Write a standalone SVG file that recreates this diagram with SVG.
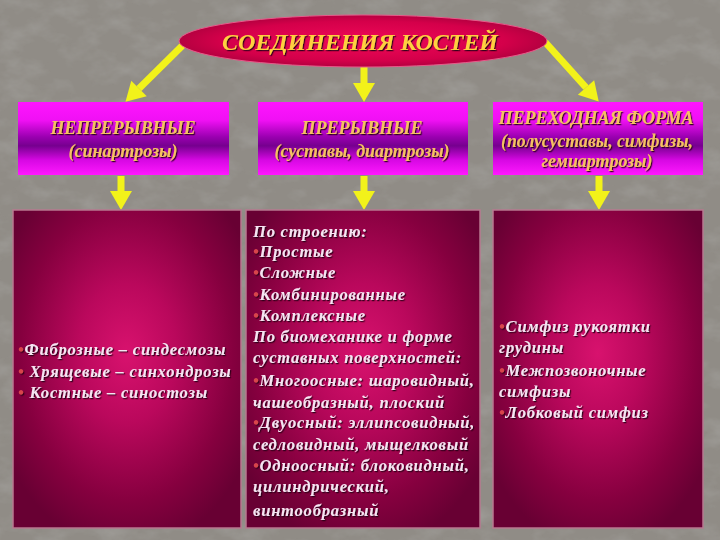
<svg xmlns="http://www.w3.org/2000/svg" width="720" height="540" viewBox="0 0 720 540">
<defs>
  <filter id="tex" x="0" y="0" width="100%" height="100%">
    <feTurbulence type="fractalNoise" baseFrequency="0.03 0.05" numOctaves="4" seed="7" result="n"/>
    <feColorMatrix in="n" type="matrix" values="0 0 0 0 0.36  0 0 0 0 0.35  0 0 0 0 0.33  1.6 0 0 0 -0.72" result="a"/>
    <feComposite in="a" in2="SourceGraphic" operator="in"/>
  </filter>
  <filter id="sh" x="-10%" y="-30%" width="120%" height="160%">
    <feDropShadow dx="1.2" dy="1.2" stdDeviation="0.4" flood-color="#2a0018" flood-opacity="0.9"/>
  </filter>
  <linearGradient id="hdr" x1="0" y1="0" x2="0" y2="1">
    <stop offset="0" stop-color="#ff14ff"/>
    <stop offset="0.25" stop-color="#f010f4"/>
    <stop offset="0.48" stop-color="#9a00b0"/>
    <stop offset="0.6" stop-color="#76008f"/>
    <stop offset="0.8" stop-color="#d808e4"/>
    <stop offset="1" stop-color="#ff18ff"/>
  </linearGradient>
  <radialGradient id="body" cx="0.5" cy="0.45" r="0.62">
    <stop offset="0" stop-color="#d8126e"/>
    <stop offset="0.35" stop-color="#ba085c"/>
    <stop offset="0.75" stop-color="#86003f"/>
    <stop offset="1" stop-color="#680033"/>
  </radialGradient>
  <radialGradient id="ell" cx="0.5" cy="0.5" r="0.55">
    <stop offset="0" stop-color="#f00858"/>
    <stop offset="0.7" stop-color="#d4004a"/>
    <stop offset="1" stop-color="#a8003c"/>
  </radialGradient>
  <marker id="ah" markerUnits="userSpaceOnUse" markerWidth="22" markerHeight="24" viewBox="0 -12 20 24" refX="0" refY="0" orient="auto">
    <path d="M0,-11 L19,0 L0,11 z" fill="#f2f21a"/>
  </marker>
  <style>
    .hbox{fill:url(#hdr);}
    .bbox{fill:url(#body);stroke:#b87890;stroke-width:1.5;}
    .ht{font-family:"Liberation Serif","DejaVu Serif",serif;font-weight:bold;font-style:italic;fill:#f6c062;text-anchor:middle;font-size:18px;}
    .bt{font-family:"Liberation Serif","DejaVu Serif",serif;font-weight:bold;font-style:italic;fill:#f6e4f2;font-size:16.5px;letter-spacing:0.8px;}
    .bl{fill:#d8444c;}
    .conn line{stroke:#f2f21a;stroke-width:7;marker-end:url(#ah);}
  </style>
</defs>
<rect width="720" height="540" fill="#908c86"/>
<rect width="720" height="540" fill="#908c86" filter="url(#tex)"/>

<g id="connectors" class="conn">
  <line x1="184" y1="44" x2="139" y2="88.5"/>
  <line x1="364" y1="66" x2="364" y2="83"/>
  <line x1="545" y1="42" x2="586" y2="87.5"/>
  <line x1="121" y1="176" x2="121" y2="191"/>
  <line x1="364" y1="176" x2="364" y2="191"/>
  <line x1="599" y1="176" x2="599" y2="191"/>
</g>

<g id="root">
  <ellipse cx="363" cy="41" rx="184" ry="26" fill="url(#ell)" stroke="#e85a8a" stroke-width="1"/>
  <text x="360" y="50" font-family="'Liberation Serif','DejaVu Serif',serif" font-weight="bold" font-style="italic" font-size="24" fill="#ffd040" text-anchor="middle" textLength="276" lengthAdjust="spacingAndGlyphs" filter="url(#sh)">СОЕДИНЕНИЯ КОСТЕЙ</text>
</g>

<g id="h1">
  <rect class="hbox" x="18" y="102" width="211" height="73"/>
  <text class="ht" x="123" y="134" textLength="145" lengthAdjust="spacingAndGlyphs" filter="url(#sh)">НЕПРЕРЫВНЫЕ</text>
  <text class="ht" x="123" y="157" font-weight="normal" textLength="109" lengthAdjust="spacingAndGlyphs" filter="url(#sh)">(синартрозы)</text>
</g>

<g id="h2">
  <rect class="hbox" x="258" y="102" width="210" height="73"/>
  <text class="ht" x="362" y="134" textLength="121" lengthAdjust="spacingAndGlyphs" filter="url(#sh)">ПРЕРЫВНЫЕ</text>
  <text class="ht" x="362" y="157" font-weight="normal" textLength="175" lengthAdjust="spacingAndGlyphs" filter="url(#sh)">(суставы, диартрозы)</text>
</g>

<g id="h3">
  <rect class="hbox" x="493" y="102" width="210" height="73"/>
  <text class="ht" x="596" y="124" textLength="195" lengthAdjust="spacingAndGlyphs" filter="url(#sh)">ПЕРЕХОДНАЯ ФОРМА</text>
  <text class="ht" x="597" y="147" textLength="192" lengthAdjust="spacingAndGlyphs" filter="url(#sh)">(полусуставы, симфизы,</text>
  <text class="ht" x="597" y="167" textLength="111" lengthAdjust="spacingAndGlyphs" filter="url(#sh)">гемиартрозы)</text>
</g>

<g id="b1">
  <rect class="bbox" x="13" y="210" width="228" height="318"/>
  <g filter="url(#sh)">
    <text class="bt" x="18" y="355"><tspan class="bl">•</tspan>Фиброзные – синдесмозы</text>
    <text class="bt" x="18" y="377"><tspan class="bl">•</tspan> Хрящевые – синхондрозы</text>
    <text class="bt" x="18" y="398"><tspan class="bl">•</tspan> Костные – синостозы</text>
  </g>
</g>

<g id="b2">
  <rect class="bbox" x="246" y="210" width="234" height="318"/>
  <g filter="url(#sh)">
    <text class="bt" x="253" y="237">По строению:</text>
    <text class="bt" x="253" y="257"><tspan class="bl">•</tspan>Простые</text>
    <text class="bt" x="253" y="278"><tspan class="bl">•</tspan>Сложные</text>
    <text class="bt" x="253" y="300"><tspan class="bl">•</tspan>Комбинированные</text>
    <text class="bt" x="253" y="321"><tspan class="bl">•</tspan>Комплексные</text>
    <text class="bt" x="253" y="342">По биомеханике и форме</text>
    <text class="bt" x="253" y="363">суставных поверхностей:</text>
    <text class="bt" x="253" y="386"><tspan class="bl">•</tspan>Многоосные: шаровидный,</text>
    <text class="bt" x="253" y="408">чашеобразный, плоский</text>
    <text class="bt" x="253" y="428"><tspan class="bl">•</tspan>Двуосный: эллипсовидный,</text>
    <text class="bt" x="253" y="450">седловидный, мыщелковый</text>
    <text class="bt" x="253" y="471"><tspan class="bl">•</tspan>Одноосный: блоковидный,</text>
    <text class="bt" x="253" y="492">цилиндрический,</text>
    <text class="bt" x="253" y="516">винтообразный</text>
  </g>
</g>

<g id="b3">
  <rect class="bbox" x="493" y="210" width="210" height="318"/>
  <g filter="url(#sh)">
    <text class="bt" x="499" y="332"><tspan class="bl">•</tspan>Симфиз рукоятки</text>
    <text class="bt" x="499" y="353">грудины</text>
    <text class="bt" x="499" y="376"><tspan class="bl">•</tspan>Межпозвоночные</text>
    <text class="bt" x="499" y="397">симфизы</text>
    <text class="bt" x="499" y="418"><tspan class="bl">•</tspan>Лобковый симфиз</text>
  </g>
</g>
</svg>
